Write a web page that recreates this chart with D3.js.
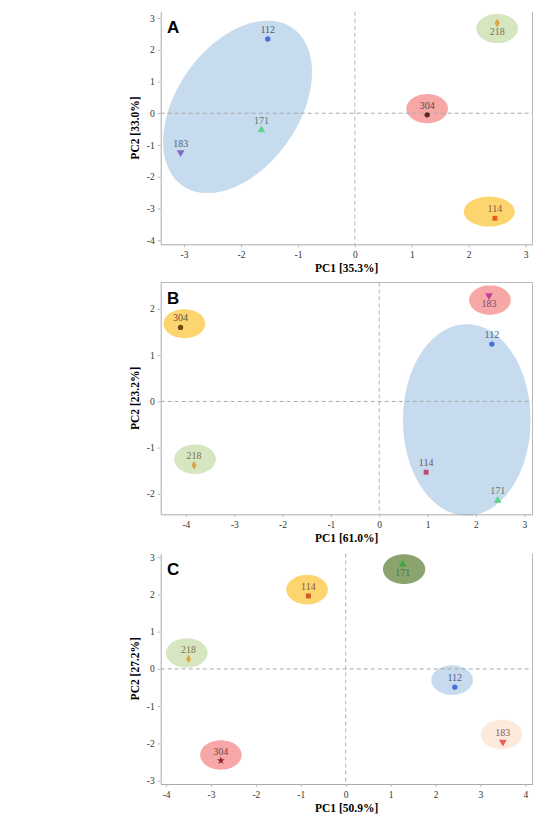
<!DOCTYPE html>
<html>
<head>
<meta charset="utf-8">
<script src="https://cdn.jsdelivr.net/npm/d3@7"></script>
<style>
  body { margin: 0; background: #fff; }
  svg { display: block; }
</style>
</head>
<body>
<div id="chart"></div>
<script>
// sample names, same order in every array below
const samples = ['112', '114', '171', '183', '218', '304'];

const panelNames = ['A', 'B', 'C'];
const pc1Titles = ['PC1 [35.3%]', 'PC1 [61.0%]', 'PC1 [50.9%]'];
const pc2Titles = ['PC2 [33.0%]', 'PC2 [23.2%]', 'PC2 [27.2%]'];

// scores
const pc1A = [-1.53, 2.46, -1.64, -3.06, 2.50, 1.27];
const pc2A = [2.34, -3.31, -0.53, -1.24, 2.84, -0.05];
const pc1B = [2.33, 0.97, 2.45, 2.27, -3.83, -4.11];
const pc2B = [1.24, -1.53, -2.14, 2.29, -1.38, 1.60];
const pc1C = [2.43, -0.83, 1.27, 3.50, -3.50, -2.78];
const pc2C = [-0.49, 1.96, 2.81, -1.96, 0.27, -2.46];

// label above or below the marker
const labelSideA = ['up', 'up', 'up', 'up', 'down', 'up'];
const labelSideB = ['up', 'up', 'up', 'down', 'up', 'up'];
const labelSideC = ['up', 'up', 'down', 'up', 'up', 'up'];

// axis ranges and ticks
const xDomA = [-3.41, 3.12], yDomA = [-4.13, 3.2];
const xDomB = [-4.52, 3.17], yDomB = [-2.44, 2.57];
const xDomC = [-4.12, 4.16], yDomC = [-3.09, 3.1];
const xTicksA = [-3, -2, -1, 0, 1, 2, 3], yTicksA = [-4, -3, -2, -1, 0, 1, 2, 3];
const xTicksB = [-4, -3, -2, -1, 0, 1, 2, 3], yTicksB = [-2, -1, 0, 1, 2];
const xTicksC = [-4, -3, -2, -1, 0, 1, 2, 3, 4], yTicksC = [-3, -2, -1, 0, 1, 2, 3];

// cluster ellipses: [centre pc1, centre pc2, semi axis 1, semi axis 2, angle deg]
const ellA = [[-2.06, 0.20, 2.78, 1.17, 76.6], [2.50, 2.67, 0.365, 0.46, 0], [1.27, 0.145, 0.365, 0.46, 0], [2.36, -3.10, 0.447, 0.473, 0]];
const ellB = [[1.81, -0.40, 1.32, 2.07, 0], [-4.03, 1.68, 0.43, 0.313, 0], [2.29, 2.19, 0.43, 0.318, 0], [-3.81, -1.25, 0.43, 0.318, 0]];
const ellC = [[1.30, 2.68, 0.47, 0.40, 0], [-0.86, 2.13, 0.462, 0.396, 0], [-3.54, 0.43, 0.462, 0.396, 0], [2.37, -0.30, 0.462, 0.396, 0], [3.47, -1.76, 0.462, 0.396, 0], [-2.78, -2.31, 0.462, 0.396, 0]];
const ellFillA = ['#c6dcee', '#d5e6c1', '#f8a7a7', '#fdd56f'];
const ellFillB = ['#c6dcee', '#fdd56f', '#f8a7a7', '#d5e6c1'];
const ellFillC = ['#8ba46f', '#fdd56f', '#d5e6c1', '#c6dcee', '#fcebdd', '#f8a7a7'];

// markers
const shapesAB = ['circle', 'square', 'up', 'down', 'diamond', 'circle'];
const shapesC = ['circle', 'square', 'up', 'down', 'diamond', 'star'];
const colA = ['#4b6be0', '#e2621b', '#63d08a', '#8067c0', '#e0a040', '#5a2a20'];
const colB = ['#4b6be0', '#c04a70', '#63d08a', '#c0409a', '#e0a040', '#6a4a10'];
const colC = ['#4b6be0', '#d8562a', '#3aa83a', '#e86050', '#e0a840', '#8a2a30'];

const W = 538, H = 823;
const left = 160.7, right = 532.5;
const tops = [11.7, 282.5, 553.5];
const bottoms = [244.3, 514.3, 784];
const boxed = [false, true, false];

const panels = [
  {x: pc1A, y: pc2A, side: labelSideA, xd: xDomA, yd: yDomA, xt: xTicksA, yt: yTicksA, ell: ellA, ef: ellFillA, sh: shapesAB, col: colA},
  {x: pc1B, y: pc2B, side: labelSideB, xd: xDomB, yd: yDomB, xt: xTicksB, yt: yTicksB, ell: ellB, ef: ellFillB, sh: shapesAB, col: colB},
  {x: pc1C, y: pc2C, side: labelSideC, xd: xDomC, yd: yDomC, xt: xTicksC, yt: yTicksC, ell: ellC, ef: ellFillC, sh: shapesC, col: colC}
];

const symbols = {
  circle: d3.symbolCircle, square: d3.symbolSquare, up: d3.symbolTriangle,
  down: d3.symbolTriangle, diamond: d3.symbolDiamond, star: d3.symbolStar
};
const sizes = {circle: 22, square: 24, up: 26, down: 26, diamond: 22, star: 20};

const svg = d3.select('#chart').append('svg')
  .attr('width', W).attr('height', H);

const serif = '"Liberation Serif", "Times New Roman", serif';

panels.forEach((p, i) => {
  const top = tops[i], bottom = bottoms[i];
  const x = d3.scaleLinear().domain(p.xd).range([left, right]);
  const y = d3.scaleLinear().domain(p.yd).range([bottom, top]);
  const g = svg.append('g');

  // ellipses
  const line = d3.line().x(d => x(d[0])).y(d => y(d[1])).curve(d3.curveLinearClosed);
  p.ell.forEach((e, k) => {
    const th = e[4] * Math.PI / 180;
    const pts = d3.range(0, 360, 4).map(a => {
      const t = a * Math.PI / 180;
      return [e[0] + e[2] * Math.cos(t) * Math.cos(th) - e[3] * Math.sin(t) * Math.sin(th),
              e[1] + e[2] * Math.cos(t) * Math.sin(th) + e[3] * Math.sin(t) * Math.cos(th)];
    });
    g.append('path').attr('d', line(pts)).attr('fill', p.ef[k]).attr('stroke', 'none');
  });

  // zero lines
  g.append('line').attr('x1', x(0)).attr('x2', x(0)).attr('y1', top).attr('y2', bottom)
    .attr('stroke', '#b4b4b4').attr('stroke-dasharray', '4,3');
  g.append('line').attr('x1', left).attr('x2', right).attr('y1', y(0)).attr('y2', y(0))
    .attr('stroke', '#a8a8a8').attr('stroke-dasharray', '4,3');

  // axes
  const xa = g.append('g').attr('transform', 'translate(0,' + bottom + ')')
    .call(d3.axisBottom(x).tickValues(p.xt).tickSize(3).tickSizeOuter(0).tickFormat(d => String(d)));
  const ya = g.append('g').attr('transform', 'translate(' + left + ',0)')
    .call(d3.axisLeft(y).tickValues(p.yt).tickSize(3).tickSizeOuter(0).tickFormat(d => String(d)));
  [xa, ya].forEach(a => {
    a.select('.domain').attr('stroke', '#aaa');
    a.selectAll('.tick line').attr('stroke', '#bbb');
    a.selectAll('.tick text').attr('fill', '#333').style('font-family', serif).style('font-size', '9.5px');
  });
  xa.selectAll('.tick text').attr('dy', '0.85em');

  // right border, top border
  g.append('line').attr('x1', right).attr('x2', right).attr('y1', top).attr('y2', bottom).attr('stroke', '#bbb');
  if (boxed[i]) {
    g.append('line').attr('x1', left).attr('x2', right).attr('y1', top).attr('y2', top).attr('stroke', '#bbb');
  }

  // markers and labels
  samples.forEach((s, k) => {
    const px = x(p.x[k]), py = y(p.y[k]);
    const shape = p.sh[k];
    g.append('path')
      .attr('d', d3.symbol().type(symbols[shape]).size(sizes[shape])())
      .attr('transform', 'translate(' + px + ',' + py + ')' + (shape === 'down' ? ' rotate(180)' : ''))
      .attr('fill', p.col[k]);
    g.append('text')
      .attr('x', px)
      .attr('y', p.side[k] === 'up' ? py - 6 : py + 11.5)
      .attr('text-anchor', 'middle')
      .attr('fill', d3.interpolateRgb(p.col[k], '#555')(0.65))
      .style('font-family', serif).style('font-size', '10px')
      .text(s);
  });

  // titles
  g.append('text')
    .attr('x', (left + right) / 2).attr('y', bottom + 28)
    .attr('text-anchor', 'middle')
    .style('font-family', serif).style('font-size', '11.5px').style('font-weight', 'bold')
    .text(pc1Titles[i]);
  g.append('text')
    .attr('transform', 'translate(139,' + ((top + bottom) / 2) + ') rotate(-90)')
    .attr('text-anchor', 'middle')
    .style('font-family', serif).style('font-size', '11.5px').style('font-weight', 'bold')
    .text(pc2Titles[i]);

  // panel letter
  g.append('text')
    .attr('x', 167).attr('y', top + 21)
    .style('font-family', '"Liberation Sans", Arial, sans-serif').style('font-size', '17px').style('font-weight', 'bold')
    .text(panelNames[i]);
});
</script>
</body>
</html>
